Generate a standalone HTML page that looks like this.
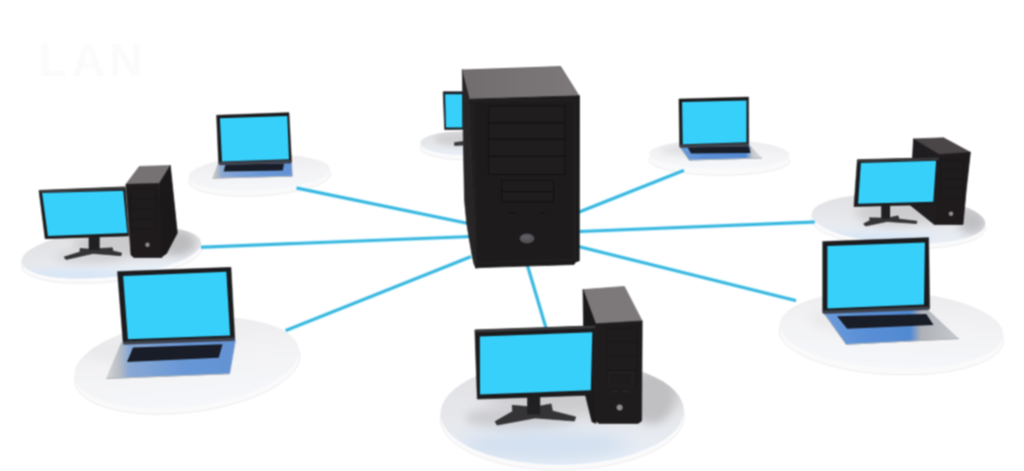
<!DOCTYPE html>
<html><head><meta charset="utf-8">
<style>
html,body{margin:0;padding:0;background:#fff;width:1024px;height:471px;overflow:hidden}
svg{display:block}
</style></head><body>
<svg width="1024" height="471" viewBox="0 0 1024 471">
<defs>
  <linearGradient id="ptopD" x1="0" y1="0" x2="0" y2="1">
    <stop offset="0" stop-color="#e0e0e3"/>
    <stop offset="0.5" stop-color="#e6e7ea"/>
    <stop offset="1" stop-color="#e8eff8"/>
  </linearGradient>
  <linearGradient id="ptopL" x1="0" y1="0" x2="0" y2="1">
    <stop offset="0" stop-color="#ececee"/>
    <stop offset="0.5" stop-color="#f3f3f5"/>
    <stop offset="1" stop-color="#f5f7fa"/>
  </linearGradient>
  <linearGradient id="srvTop" x1="0" y1="0" x2="1" y2="0">
    <stop offset="0" stop-color="#716c6e"/>
    <stop offset="1" stop-color="#7d7879"/>
  </linearGradient>
  <linearGradient id="bezel" x1="0" y1="0" x2="0" y2="1">
    <stop offset="0" stop-color="#4a4a4c"/>
    <stop offset="0.08" stop-color="#2a2a2c"/>
    <stop offset="1" stop-color="#1a1a1c"/>
  </linearGradient>
  <filter id="soft" x="0" y="0" width="1024" height="471" filterUnits="userSpaceOnUse" color-interpolation-filters="sRGB"><feConvolveMatrix order="3" kernelMatrix="1 2 1 2 4 2 1 2 1" divisor="16" edgeMode="duplicate"/></filter>
  <filter id="b1" x="-50%" y="-50%" width="200%" height="200%"><feGaussianBlur stdDeviation="1"/></filter>
  <filter id="b3" x="-50%" y="-50%" width="200%" height="200%"><feGaussianBlur stdDeviation="3"/></filter>
  <filter id="b5" x="-50%" y="-50%" width="200%" height="200%"><feGaussianBlur stdDeviation="5"/></filter>
  <filter id="b8" x="-50%" y="-50%" width="200%" height="200%"><feGaussianBlur stdDeviation="8"/></filter>

  <clipPath id="cpBS"><ellipse cx="461.8" cy="143.2" rx="41.5" ry="11.7" transform="rotate(0.3 461.8 143.2)"/></clipPath>
  <clipPath id="cpTL"><ellipse cx="259.3" cy="173" rx="70.8" ry="17.5" transform="rotate(-3.3 259.3 173)"/></clipPath>
  <clipPath id="cpLD"><ellipse cx="111.3" cy="252.2" rx="90.4" ry="24.6" transform="rotate(-6.2 111.3 252.2)"/></clipPath>
  <clipPath id="cpBL"><ellipse cx="186.6" cy="362.8" rx="113" ry="43.8" transform="rotate(-7.1 186.6 362.8)"/></clipPath>
  <clipPath id="cpBC"><ellipse cx="562.2" cy="412.2" rx="121.7" ry="52.5" transform="rotate(-0.8 562.2 412.2)"/></clipPath>
  <clipPath id="cpTR"><ellipse cx="719.5" cy="154.4" rx="70.2" ry="14.6" transform="rotate(0.5 719.5 154.4)"/></clipPath>
  <clipPath id="cpRD"><ellipse cx="898.5" cy="219" rx="87" ry="24.5" transform="rotate(3.3 898.5 219)"/></clipPath>
  <clipPath id="cpBR"><ellipse cx="891.6" cy="329.7" rx="112" ry="38.5" transform="rotate(2.8 891.6 329.7)"/></clipPath>
</defs>
<rect width="1024" height="471" fill="#fff"/>
<g filter="url(#soft)">
<text x="38.8" y="75.8" font-family="Liberation Sans, sans-serif" font-size="46" font-weight="bold" letter-spacing="4.6" fill="#fbfbfb">LAN</text>
<g transform="rotate(0.3 461.8 143.2)">
  <ellipse cx="461.8" cy="147.7" rx="41.8" ry="12.0" fill="#fafafb" stroke="#ebebee" stroke-width="0.9"/>
  <ellipse cx="461.8" cy="143.2" rx="41.5" ry="11.7" fill="url(#ptopD)"/>
</g>
<g clip-path="url(#cpBS)">
  <ellipse cx="462" cy="139" rx="28" ry="7" fill="#cfcfd2" filter="url(#b3)"/>
</g>
<g transform="rotate(-3.3 259.3 173)">
  <ellipse cx="259.3" cy="178" rx="71.1" ry="17.8" fill="#fafafb" stroke="#ebebee" stroke-width="0.9"/>
  <ellipse cx="259.3" cy="173" rx="70.8" ry="17.5" fill="url(#ptopL)"/>
</g>
<g transform="rotate(-6.2 111.3 252.2)">
  <ellipse cx="111.3" cy="256.7" rx="90.7" ry="24.900000000000002" fill="#fafafb" stroke="#ebebee" stroke-width="0.9"/>
  <ellipse cx="111.3" cy="252.2" rx="90.4" ry="24.6" fill="url(#ptopD)"/>
</g>
<g clip-path="url(#cpLD)">
  <ellipse cx="135" cy="244" rx="62" ry="13" fill="#cbcbce" filter="url(#b5)"/>
  <ellipse cx="90" cy="257" rx="35" ry="6" fill="#d0d0d3" filter="url(#b5)"/>
  <ellipse cx="178" cy="242" rx="16" ry="12" fill="#bcbcbf" filter="url(#b5)"/>
  <ellipse cx="75" cy="276" rx="65" ry="7" fill="#d9e6f5" filter="url(#b3)"/>
</g>
<g transform="rotate(-7.1 186.6 362.8)">
  <ellipse cx="186.6" cy="368.3" rx="113.3" ry="44.099999999999994" fill="#fafafb" stroke="#ebebee" stroke-width="0.9"/>
  <ellipse cx="186.6" cy="362.8" rx="113" ry="43.8" fill="url(#ptopL)"/>
</g>
<g clip-path="url(#cpBL)">
  <ellipse cx="120" cy="350" rx="40" ry="12" fill="#eaeaec" filter="url(#b5)"/>
</g>
<g transform="rotate(-0.8 562.2 412.2)">
  <ellipse cx="562.2" cy="417.2" rx="122.0" ry="52.8" fill="#fafafb" stroke="#ebebee" stroke-width="0.9"/>
  <ellipse cx="562.2" cy="412.2" rx="121.7" ry="52.5" fill="url(#ptopD)"/>
</g>
<g clip-path="url(#cpBC)">
  <ellipse cx="585" cy="392" rx="100" ry="24" fill="#cacacd" filter="url(#b8)"/>
  <ellipse cx="520" cy="418" rx="55" ry="12" fill="#cdcdd1" filter="url(#b5)"/>
  <ellipse cx="652" cy="398" rx="22" ry="26" fill="#c0c0c3" filter="url(#b5)"/>
  <ellipse cx="545" cy="445" rx="85" ry="15" fill="#d3e0f0" filter="url(#b8)"/>
</g>
<g transform="rotate(0.5 719.5 154.4)">
  <ellipse cx="719.5" cy="160.4" rx="70.5" ry="14.9" fill="#fafafb" stroke="#ebebee" stroke-width="0.9"/>
  <ellipse cx="719.5" cy="154.4" rx="70.2" ry="14.6" fill="url(#ptopL)"/>
</g>
<g clip-path="url(#cpTR)">
  <ellipse cx="690" cy="150" rx="30" ry="6" fill="#e2e2e4" filter="url(#b3)"/>
</g>
<g transform="rotate(3.3 898.5 219)">
  <ellipse cx="898.5" cy="223.5" rx="87.3" ry="24.8" fill="#fafafb" stroke="#ebebee" stroke-width="0.9"/>
  <ellipse cx="898.5" cy="219" rx="87" ry="24.5" fill="url(#ptopD)"/>
</g>
<g clip-path="url(#cpRD)">
  <ellipse cx="915" cy="212" rx="60" ry="11" fill="#cbcbce" filter="url(#b5)"/>
  <ellipse cx="888" cy="221" rx="28" ry="5" fill="#d0d0d3" filter="url(#b5)"/>
  <ellipse cx="972" cy="222" rx="14" ry="12" fill="#c0c0c3" filter="url(#b5)"/>
  <ellipse cx="875" cy="238" rx="60" ry="6" fill="#d9e6f5" filter="url(#b3)"/>
</g>
<g transform="rotate(2.8 891.6 329.7)">
  <ellipse cx="891.6" cy="335.7" rx="112.3" ry="38.8" fill="#fafafb" stroke="#ebebee" stroke-width="0.9"/>
  <ellipse cx="891.6" cy="329.7" rx="112" ry="38.5" fill="url(#ptopL)"/>
</g>
<g clip-path="url(#cpBR)">
  <ellipse cx="850" cy="320" rx="40" ry="12" fill="#eaeaec" filter="url(#b5)"/>
</g>
<g stroke="#b8ecfb" stroke-width="4.6" opacity="0.6">
  <line x1="296.5" y1="188" x2="468" y2="223.4"/>
  <line x1="201" y1="247.2" x2="469" y2="236.6"/>
  <line x1="285.6" y1="330.6" x2="471" y2="256.6"/>
  <line x1="527" y1="264" x2="546" y2="328"/>
  <line x1="577" y1="212.9" x2="683.9" y2="170.4"/>
  <line x1="577" y1="231.6" x2="814.7" y2="222"/>
  <line x1="577" y1="246.2" x2="796" y2="300.6"/>
</g>
<g stroke="#3ab8e0" stroke-width="2.9">
  <line x1="296.5" y1="188" x2="468" y2="223.4"/>
  <line x1="201" y1="247.2" x2="469" y2="236.6"/>
  <line x1="285.6" y1="330.6" x2="471" y2="256.6"/>
  <line x1="527" y1="264" x2="546" y2="328"/>
  <line x1="577" y1="212.9" x2="683.9" y2="170.4"/>
  <line x1="577" y1="231.6" x2="814.7" y2="222"/>
  <line x1="577" y1="246.2" x2="796" y2="300.6"/>
</g>
<polygon points="443.2,91.8 463.2,91.8 463.2,129.3 444.7,129.6" fill="#1b2227" stroke="#1b2227" stroke-width="0.7" stroke-linejoin="round"/>
<polygon points="445.1,94.3 462.3,94.3 462.3,127.4 446,127.4" fill="#37d0fb"/>
<polygon points="454.6,142.6 463.2,141.6 463.2,145 454.6,145.4" fill="#3a3a3c" stroke="#3a3a3c" stroke-width="0.8" stroke-linejoin="round"/>
<polygon points="462.3,69.4 469.9,99.2 476,268.4 474,264 472.3,256.5 469,237.4 466.7,223 464.5,200 463.5,150" fill="#282526" stroke="#282526" stroke-width="0.7" stroke-linejoin="round"/>
<polygon points="469.9,99.2 579.5,95.8 579.3,260.8 575.6,262 574,264.5 481,267.6 476,268" fill="#1e1b1c" stroke="#1e1b1c" stroke-width="0.7" stroke-linejoin="round"/>
<polygon points="462.3,69.4 560.8,66 579.5,95.8 469.9,99.2" fill="url(#srvTop)"/>
<polyline points="469.9,99.2 579.5,95.8" stroke="#2e2a2b" stroke-width="1" fill="none"/>
<polygon points="473,101.3 575,100 574.5,259.5 476.5,263" fill="none" stroke="#282526" stroke-width="0.9"/>
<g fill="#1f1d1e" stroke="#111011" stroke-width="0.9">
  <rect x="488.7" y="105.8" width="76.3" height="17.2"/>
  <rect x="488.7" y="123" width="76.3" height="16.2"/>
  <rect x="488.7" y="139.2" width="76.3" height="17.2"/>
  <rect x="488.7" y="156.4" width="76.3" height="18"/>
  <rect x="501.7" y="180.6" width="51.9" height="11.1"/>
  <rect x="501.7" y="191.7" width="51.9" height="10"/>
</g>
<g fill="#0f0e0f" stroke="#2a2728" stroke-width="0.5"><rect x="509" y="212" width="8" height="2"/><circle cx="522.4" cy="213" r="1"/><circle cx="531.3" cy="213" r="1"/><rect x="538" y="212" width="8" height="2"/></g>
<ellipse cx="527" cy="238.5" rx="7.4" ry="4.9" fill="#525155"/><ellipse cx="526" cy="237.3" rx="5" ry="2.6" fill="#5d5c60"/>
<linearGradient id="dk1" x1="0" y1="0" x2="1" y2="0"><stop offset="0" stop-color="#d3d6da"/><stop offset="0.06" stop-color="#b9bdc3"/><stop offset="0.13" stop-color="#88a8d4"/><stop offset="0.6" stop-color="#6897d6"/><stop offset="1" stop-color="#6392d4"/></linearGradient>
<polygon points="218.2,163 291.4,161.5 292.2,176.5 212,178.6" fill="url(#dk1)"/>
<polyline points="212.5,178.2 292,176.2" fill="none" stroke="#b0b4b9" stroke-width="1.0"/>
<polyline points="291.4,161.5 292.2,176.5" fill="none" stroke="#7f9cc4" stroke-width="0.8"/>
<polygon points="225.4,164.6 284,163.4 282.8,170.4 223.7,171.6" fill="#191d28"/>
<polygon points="216.5,115.2 289,112.6 291.6,161.9 218.6,163.6" fill="#1c1c1e" stroke="#1c1c1e" stroke-width="0.4" stroke-linejoin="round"/>
<polygon points="219.1,162 291.1,160.3 291.1,163.3 219.1,165" fill="#3d424c" stroke="#3d424c" stroke-width="0.3" stroke-linejoin="round"/>
<polygon points="219.9,118.2 287.3,116 289,159.3 222,161.4" fill="#37d0fb"/>
<polygon points="125.9,184.3 139.3,166.4 170.3,165.5 159.3,183.4" fill="#767273" stroke="#767273" stroke-width="0.7" stroke-linejoin="round"/>
<polygon points="159.3,183.4 170.3,165.5 177.3,233 166.5,253.5 161,257.3" fill="#1a1819" stroke="#1a1819" stroke-width="0.7" stroke-linejoin="round"/>
<polygon points="125.9,184.3 159.3,183.4 162,257.5 134,257.5 131,255" fill="#1f1b1c" stroke="#1f1b1c" stroke-width="0.7" stroke-linejoin="round"/>
<rect x="131" y="189" width="25" height="40" fill="#1f1c1d" stroke="#181617" stroke-width="0.7"/><g stroke="#171516" stroke-width="0.7"><line x1="131" y1="199.0" x2="156" y2="199.0"/><line x1="131" y1="209.0" x2="156" y2="209.0"/><line x1="131" y1="219.0" x2="156" y2="219.0"/></g>
<circle cx="147.5" cy="244.7" r="2.2" fill="#8e8e90"/>
<polygon points="39,190.4 125.2,186.9 128.7,235.9 45.2,238.7" fill="#1c1c1e" stroke="#1c1c1e" stroke-width="0.6" stroke-linejoin="round"/>
<polygon points="39.5,190.7 124.7,187.2 124.7,188.9 39.5,192.4" fill="#3c3c3e" stroke="#3c3c3e" stroke-width="0.7" stroke-linejoin="round"/>
<polygon points="42.1,193.1 123.2,190.8 127.3,233.1 47.9,235.9" fill="#37d0fb"/>
<polygon points="80,248.5 88.7,249 99.7,248.5 112.3,247.8 113,251 121.5,253 121,255.7 93,253.5 66,259.5 64,257 80,252" fill="#343436" stroke="#262628" stroke-width="0.6" stroke-linejoin="round"/>
<polygon points="88.7,237 99.7,237 99.7,250 88.7,250" fill="#202022"/>
<linearGradient id="dk2" x1="0" y1="0" x2="1" y2="0"><stop offset="0" stop-color="#d3d6da"/><stop offset="0.1" stop-color="#b9bdc3"/><stop offset="0.18" stop-color="#88a8d4"/><stop offset="0.6" stop-color="#6897d6"/><stop offset="1" stop-color="#6392d4"/></linearGradient>
<polygon points="121.2,342.4 235.5,339.8 229.5,374 105.9,379" fill="url(#dk2)"/>
<polyline points="106.5,378.5 229.5,373.8" fill="none" stroke="#b0b4b9" stroke-width="1.0"/>
<polyline points="235.5,339.8 229.5,374" fill="none" stroke="#7f9cc4" stroke-width="0.8"/>
<polygon points="133,347.5 222.5,344.3 218.8,357.7 127,362" fill="#191d28"/>
<polygon points="117.4,271.5 231,267.3 234.9,339.3 123.1,343.1" fill="#1c1c1e" stroke="#1c1c1e" stroke-width="0.4" stroke-linejoin="round"/>
<polygon points="123.6,341.5 234.4,337.7 234.4,340.7 123.6,344.5" fill="#3d424c" stroke="#3d424c" stroke-width="0.3" stroke-linejoin="round"/>
<polygon points="123.1,276 226.3,271.8 230.1,335.4 127.9,339.3" fill="#37d0fb"/>
<polygon points="583,289.6 624.4,286.4 642.2,321 595.6,323.8" fill="#7d797a" stroke="#7d797a" stroke-width="0.7" stroke-linejoin="round"/>
<polygon points="583,289.6 595.6,323.8 596,423.4 592,421.8 584.6,391.5" fill="#1b191a" stroke="#1b191a" stroke-width="0.7" stroke-linejoin="round"/>
<polygon points="595.6,323.8 642.2,321 641.6,421 638,423.4 599,423.4 596,421" fill="#1f1c1d" stroke="#1f1c1d" stroke-width="0.7" stroke-linejoin="round"/>
<rect x="607" y="328" width="30" height="57" fill="#1f1c1d" stroke="#181617" stroke-width="0.7"/><g stroke="#171516" stroke-width="0.7"><line x1="607" y1="342.2" x2="637" y2="342.2"/><line x1="607" y1="356.5" x2="637" y2="356.5"/><line x1="607" y1="370.8" x2="637" y2="370.8"/></g>
<rect x="608.5" y="372.4" width="24" height="12.8" fill="none" stroke="#2b2728" stroke-width="0.8"/><g fill="#2c2829"><rect x="611.7" y="390.8" width="6.3" height="1.4"/><rect x="622.8" y="390.8" width="6.3" height="1.4"/></g>
<circle cx="619.6" cy="407.5" r="3" fill="#8e8e90"/>
<polygon points="474.9,329.9 595.5,325.8 595,395 477.3,399.1" fill="#1c1c1e" stroke="#1c1c1e" stroke-width="0.6" stroke-linejoin="round"/>
<polygon points="475.4,330.2 595,326.1 595,327.8 475.4,331.9" fill="#3c3c3e" stroke="#3c3c3e" stroke-width="0.7" stroke-linejoin="round"/>
<polygon points="479.8,336.6 592.3,332.2 590.8,390.3 480,394.4" fill="#37d0fb"/>
<polygon points="512.2,405.3 527.2,406.5 540.2,406 551.1,403.9 552.5,411 575.7,416.9 574.4,421 535,418 497.1,425.1 495.1,421.5 512.5,411.5" fill="#343436" stroke="#262628" stroke-width="0.6" stroke-linejoin="round"/>
<polygon points="527.2,397 540.2,397 540.2,414.5 527.2,414.5" fill="#202022"/>
<linearGradient id="dk3" x1="0" y1="0" x2="1" y2="0"><stop offset="0" stop-color="#6c9cdb"/><stop offset="0.3" stop-color="#5a8fd6"/><stop offset="0.8" stop-color="#5189d2"/><stop offset="0.88" stop-color="#c5c8cd"/><stop offset="1" stop-color="#dcdfe3"/></linearGradient>
<polygon points="679.3,146 749,144.6 762.3,158.4 689.5,160.4" fill="url(#dk3)"/>
<polyline points="689.5,160 762,158" fill="none" stroke="#b0b4b9" stroke-width="1.0"/>
<polyline points="679.3,146 689.5,160.4" fill="none" stroke="#9ea3aa" stroke-width="0.9"/>
<polygon points="687.6,147.2 749,146.2 750.5,153 691,153.6" fill="#191d28"/>
<polygon points="678.9,98.9 748.6,97 748.8,144.8 679.6,146.3" fill="#1c1c1e" stroke="#1c1c1e" stroke-width="0.4" stroke-linejoin="round"/>
<polygon points="680.1,144.7 748.3,143.2 748.3,146.2 680.1,147.7" fill="#3d424c" stroke="#3d424c" stroke-width="0.3" stroke-linejoin="round"/>
<polygon points="682.1,102.1 746.5,100.5 746.5,142.3 682.7,144.2" fill="#37d0fb"/>
<polygon points="913.5,138.9 943.6,137.8 970.4,152.3 939.2,154.5" fill="#4a4547" stroke="#4a4547" stroke-width="0.7" stroke-linejoin="round"/>
<polygon points="913.5,138.9 939.2,154.5 934.4,224.5 910,205" fill="#1f1d1f" stroke="#1f1d1f" stroke-width="0.7" stroke-linejoin="round"/>
<polygon points="939.2,154.5 970.4,152.3 966.2,190 963,224.5 934.4,224.5" fill="#1f1b1c" stroke="#1f1b1c" stroke-width="0.7" stroke-linejoin="round"/>
<rect x="941" y="160" width="22" height="38" fill="#1f1c1d" stroke="#181617" stroke-width="0.7"/><g stroke="#171516" stroke-width="0.7"><line x1="941" y1="169.5" x2="963" y2="169.5"/><line x1="941" y1="179.0" x2="963" y2="179.0"/><line x1="941" y1="188.5" x2="963" y2="188.5"/></g>
<circle cx="951" cy="213.7" r="2.3" fill="#8e8e90"/>
<polygon points="857.4,159.7 938.9,157.6 936.8,204.5 854,206.6" fill="#1c1c1e" stroke="#1c1c1e" stroke-width="0.6" stroke-linejoin="round"/>
<polygon points="857.9,160 938.4,157.9 938.4,159.6 857.9,161.7" fill="#3c3c3e" stroke="#3c3c3e" stroke-width="0.7" stroke-linejoin="round"/>
<polygon points="860.9,163.1 936.1,160.8 933.3,201.8 858.1,203.8" fill="#37d0fb"/>
<polygon points="869.5,217.8 881.2,218 890.1,217.5 898,215.8 899,219 917,221.2 916.5,223.6 887,221.5 865.5,226 863.6,223.8 870,220.5" fill="#343436" stroke="#262628" stroke-width="0.6" stroke-linejoin="round"/>
<polygon points="881.2,205 890.1,205 890.1,218.5 881.2,218.5" fill="#202022"/>
<linearGradient id="dk4" x1="0" y1="0" x2="1" y2="0"><stop offset="0" stop-color="#6c9cdb"/><stop offset="0.3" stop-color="#5a8fd6"/><stop offset="0.64" stop-color="#5189d2"/><stop offset="0.72" stop-color="#aeb1b7"/><stop offset="1" stop-color="#c6c9cd"/></linearGradient>
<polygon points="823,311.8 927.8,309.6 959.3,339 846.5,344.8" fill="url(#dk4)"/>
<polyline points="847,344.3 959,338.6" fill="none" stroke="#b0b4b9" stroke-width="1.0"/>
<polyline points="823,311.8 846.5,344.8" fill="none" stroke="#9ea3aa" stroke-width="0.9"/>
<polygon points="837,316.2 926.3,314 933.6,325 847.2,328.7" fill="#191d28"/>
<polygon points="822.6,241.5 928.7,237.6 929.7,308.4 822.6,312.4" fill="#1c1c1e" stroke="#1c1c1e" stroke-width="0.4" stroke-linejoin="round"/>
<polygon points="823.1,310.8 929.2,306.8 929.2,309.8 823.1,313.8" fill="#3d424c" stroke="#3d424c" stroke-width="0.3" stroke-linejoin="round"/>
<polygon points="827.4,246 924.9,242.4 924,304.5 827.4,308.4" fill="#37d0fb"/>
</g>
</svg>
</body></html>
